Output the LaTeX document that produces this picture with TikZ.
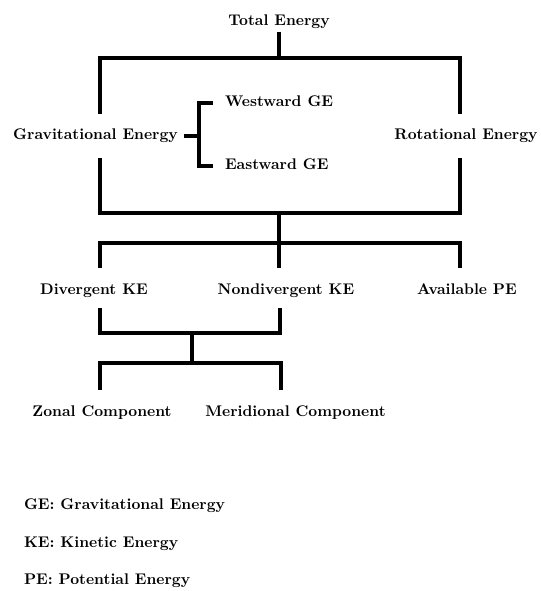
\documentclass[tikz,border=0pt]{standalone}
\usepackage{tikz}

\begin{document}
\begin{tikzpicture}[x=0.667pt, y=-0.667pt,
    lbl/.style={font=\fontsize{10.3}{12}\selectfont\bfseries,
                inner sep=0pt, outer sep=0pt,
                text height=7pt, text depth=2pt},
    key/.style={lbl, anchor=west},
    link/.style={draw, line width=2.3pt},
    gap/.style={shorten <=#1, shorten >=#1}]

  \useasboundingbox (0,0) rectangle (541,591);

  %% ── Level 1: total energy and its two parts ──────────────────
  \node[lbl] (total) at (279,22)  {Total Energy};
  \node[lbl] (grav)  at (95.5,136) {Gravitational Energy};
  \node[lbl] (rot)   at (466,136) {Rotational Energy};
  \node[key] (west)  at (225,103) {Westward GE};
  \node[key] (east)  at (225,166) {Eastward GE};

  %% bar corners
  \coordinate (tl) at (100,58);  \coordinate (tr) at (460,58);
  \coordinate (bl) at (100,213); \coordinate (br) at (460,213);
  \coordinate (bm) at (279,213);
  \coordinate (gsplit) at (199,136);

  \draw[link, shorten <=2pt] (total.south) -- (total.south |- tl);
  \draw[link, gap=10.5pt] (grav.north -| tl) |- (tr) -- (rot.north -| tr);
  \draw[link, gap=10pt]   (grav.south -| bl) |- (br) -- (rot.south -| br);

  %% GE split into westward / eastward
  \draw[link, shorten <=4.3pt] (grav.east) -- (gsplit);
  \draw[link, gap=8pt] (west.west) -| (gsplit) |- (east.west);

  %% ── Level 2: kinetic and potential energy ────────────────────
  \node[lbl] (div)    at (94,291)  {Divergent KE};
  \node[lbl] (nondiv) at (286,291) {Nondivergent KE};
  \node[lbl] (ape)    at (467,291) {Available PE};

  \coordinate (kl) at (100,243); \coordinate (kr) at (460,243);

  \draw[link, shorten >=10.7pt] (bm) -- (nondiv.north -| bm);
  \draw[link, gap=10.7pt] (div.north -| kl) |- (kr) -- (ape.north -| kr);

  %% ── Level 3: zonal / meridional components ───────────────────
  \node[lbl] (zonal) at (102,413)   {Zonal Component};
  \node[lbl] (merid) at (295.5,413) {Meridional Component};

  \coordinate (ul) at (100,333); \coordinate (ur) at (280,333);
  \coordinate (um) at (192,333);
  \coordinate (ll) at (100,363); \coordinate (lr) at (281,363);

  \draw[link, gap=6.8pt] (div.south -| ul) |- (ur) -- (nondiv.south -| ur);
  \draw[link] (um) -- (um |- ll);
  \draw[link, gap=10.7pt] (zonal.north -| ll) |- (lr) -- (merid.north -| lr);

  %% ── Abbreviations ────────────────────────────────────────────
  \node[key] (kge) at (24,506) {GE: Gravitational Energy};
  \node[key] (kke) at (24,544) {KE: Kinetic Energy};
  \node[key] (kpe) at (24,581) {PE: Potential Energy};

\end{tikzpicture}
\end{document}
